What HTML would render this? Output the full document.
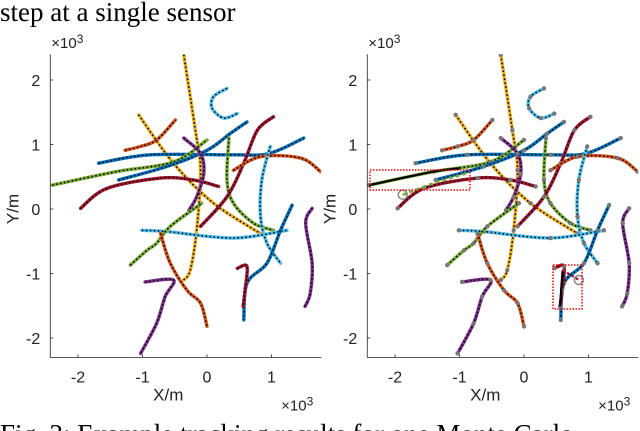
<!DOCTYPE html>
<html><head><meta charset="utf-8"><style>
html,body{margin:0;background:#fff;width:640px;height:431px;overflow:hidden;}
svg{display:block;font-family:"Liberation Sans",sans-serif;overflow:hidden;}
.serif{font-family:"Liberation Serif",serif;}
</style></head><body>
<svg id="c" width="640" height="431" viewBox="0 0 640 431">
<text class="serif" x="0" y="21" font-size="27" fill="#000">step at a single sensor</text>
<text class="serif" x="0" y="443" font-size="27" fill="#000">Fig. 3: Example tracking results for one Monte Carlo</text>
</svg>
<script>
const colors=["#EDB120","#EDB120","#4DBEEE","#D95319","#0072BD","#77AC30","#0072BD","#A2142F","#7E2F8E","#77AC30","#A2142F","#D95319","#4DBEEE","#4DBEEE","#77AC30","#D95319","#0072BD","#A2142F","#7E2F8E","#7E2F8E"];
const tracks=[
[[-0.36,2.39],[-0.18,1.22],[-0.1,0.6],[-0.16,-0.33],[-0.26,-0.95],[-0.36,-1.1]],
[[-1.06,1.46],[-0.52,0.71],[0.1,0.09],[0.83,-0.38]],
[[0.31,1.87],[0.1,1.74],[0.08,1.56],[0.26,1.41],[0.47,1.48]],
[[-1.27,0.91],[-1.03,0.97],[-0.78,1.07],[-0.49,1.38]],
[[-1.68,0.71],[-0.88,0.84],[0.41,0.84],[0.96,0.86],[1.5,1.1]],
[[-2.4,0.37],[-1.4,0.58],[-0.52,0.73],[0,1.07]],
[[-1.37,0.45],[-0.62,0.66],[0,0.91],[0.36,1.17],[0.62,1.35]],
[[-1.96,0.01],[-1.55,0.32],[-0.72,0.48],[-0.21,0.45],[0.18,0.35]],
[[-0.36,1.1],[-0.1,0.86],[-0.05,0.55],[-0.16,0.19],[-0.28,-0.02]],
[[0.34,1.1],[0.31,0.45],[0.41,0.09],[0.72,-0.22],[1.03,-0.33]],
[[-0.1,-0.27],[0.31,0.19],[0.57,0.71],[0.78,1.22],[1.03,1.43]],
[[0.41,0.6],[0.83,0.81],[1.45,0.79],[1.76,0.58]],
[[0.98,0.97],[0.85,0.45],[0.83,-0.12],[0.93,-0.53],[1.14,-0.84]],
[[-1.01,-0.33],[-0.62,-0.35],[0.41,-0.45],[1.24,-0.33]],
[[-1.19,-0.87],[-0.93,-0.64],[-0.78,-0.53],[-0.57,-0.27],[-0.08,0.09]],
[[-0.72,-0.38],[-0.57,-0.84],[-0.31,-1.26],[-0.1,-1.46],[0,-1.82]],
[[1.32,0.06],[1.14,-0.33],[0.93,-0.84],[0.62,-1.15],[0.57,-1.72]],
[[0.47,-0.92],[0.62,-0.89],[0.59,-1.26],[0.56,-1.51]],
[[1.63,0.01],[1.53,-0.22],[1.63,-0.84],[1.6,-1.31],[1.52,-1.51]],
[[-0.96,-1.13],[-0.52,-1.1],[-0.65,-1.36],[-0.78,-1.77],[-1.03,-2.24]]
];
const xTicks=[-2,-1,0,1];
const yTicks=[2,1,0,-1,-2];
const missedGreen=[[-2.4,0.37],[-1.4,0.58],[-1.0,0.63]];
const greenDashed=[[-1.88,0.22],[-1.4,0.4],[-0.9,0.55]];
const missedRed=[[0.56,-1.51],[0.58,-1.2],[0.6,-0.95]];
const redDashed=[[0.6,-0.95],[0.72,-1.02],[0.85,-1.1]];
const NS="http://www.w3.org/2000/svg";
const svg=document.getElementById('c');
const S=64.5;
function mk(t,a,p){const e=document.createElementNS(NS,t);for(const k in a)e.setAttribute(k,a[k]);(p||svg).appendChild(e);return e;}
function smooth(P){
 if(P.length<3)return 'M'+P.map(p=>p.join(',')).join('L');
 let d='M'+P[0][0]+','+P[0][1];
 for(let i=0;i<P.length-1;i++){
  const p0=P[Math.max(0,i-1)],p1=P[i],p2=P[i+1],p3=P[Math.min(P.length-1,i+2)];
  const c1=[p1[0]+(p2[0]-p0[0])/6,p1[1]+(p2[1]-p0[1])/6];
  const c2=[p2[0]-(p3[0]-p1[0])/6,p2[1]-(p3[1]-p1[1])/6];
  d+=`C${c1[0]},${c1[1]} ${c2[0]},${c2[1]} ${p2[0]},${p2[1]}`;
 }
 return d;
}
function panel(x0,right,name){
 const g=mk('g',{});
 
 
 const sx=v=>x0+v*S, sy=v=>209-v*S;
 const left=sx(-2.43), rgt=sx(1.77), top=sy(2.4), bot=sy(-2.3);
 const clip=mk('clipPath',{id:'cl'+name},g);mk('rect',{x:left,y:top,width:rgt-left,height:bot-top},clip);
 const path=a=>smooth(a.map(p=>[sx(p[0]),sy(p[1])]));
 const data=mk('g',{'clip-path':'url(#cl'+name+')'},g);
 tracks.forEach((t,i)=>{
  const l=mk('path',{d:path(t),fill:'none',stroke:colors[i],'stroke-width':3.4,'stroke-linecap':'round','stroke-linejoin':'round'},data);
  
  
  mk('path',{d:path(t),fill:'none',stroke:'#000','stroke-width':1.6,'stroke-dasharray':'1.5 2.5','stroke-linejoin':'round'},data);
  if(right){t.forEach(p=>mk('circle',{cx:sx(p[0]),cy:sy(p[1]),r:2.2,fill:'#777'},data));}
 });
 if(right){
  mk('path',{d:path(missedGreen),fill:'none',stroke:'#000','stroke-width':2.2},data);
  mk('path',{d:path(greenDashed),fill:'none',stroke:'#77AC30','stroke-width':2.5,'stroke-dasharray':'4 3'},data);
  mk('circle',{cx:sx(-1.88),cy:sy(0.22),r:4.5,fill:'none',stroke:'#888','stroke-width':1.5},data);
  mk('path',{d:path(missedRed),fill:'none',stroke:'#000','stroke-width':2.2},data);
  mk('path',{d:path(redDashed),fill:'none',stroke:'#A2142F','stroke-width':2.2,'stroke-dasharray':'3 2'},data);
  mk('circle',{cx:sx(0.85),cy:sy(-1.1),r:4.5,fill:'none',stroke:'#888','stroke-width':1.5},data);
  const b1=mk('rect',{x:370,y:170,width:100,height:20,fill:'none',stroke:'#f00','stroke-width':1.5,'stroke-dasharray':'1.5 1.5'},g);
  
  
  const b2=mk('rect',{x:553,y:265,width:29,height:44,fill:'none',stroke:'#f00','stroke-width':1.5,'stroke-dasharray':'1.5 1.5'},g);
  
  
 }
 mk('path',{d:`M${left},${top}V${bot}H${rgt}`,fill:'none',stroke:'#222','stroke-width':0.8},g);
 xTicks.forEach(v=>{
  mk('line',{x1:sx(v),x2:sx(v),y1:bot,y2:bot-3,stroke:'#222','stroke-width':0.8},g);
  const t=mk('text',{x:sx(v),y:bot+25,'font-size':16,'text-anchor':'middle',fill:'#222'},g);t.textContent=v;
  
  
 });
 yTicks.forEach(v=>{
  mk('line',{x1:left,x2:left+3,y1:sy(v),y2:sy(v),stroke:'#222','stroke-width':0.8},g);
  const t=mk('text',{x:left-10,y:sy(v)+6,'font-size':16,'text-anchor':'end',fill:'#222'},g);t.textContent=v;
  
  
 });
 const xl=mk('text',{x:sx(-0.6),y:bot+43,'font-size':17,'text-anchor':'middle',fill:'#222'},g);xl.textContent='X/m';
 
 
 const yl=mk('text',{x:0,y:0,'font-size':17,'text-anchor':'middle',fill:'#222',transform:`translate(${left-32},${sy(0)}) rotate(-90)`},g);yl.textContent='Y/m';
 
 
 const e1=mk('text',{x:left+1,y:top-6,'font-size':15,fill:'#222'},g);e1.innerHTML='×10<tspan dy="-5" font-size="12">3</tspan>';
 
 
 const e2=mk('text',{x:rgt-40,y:bot+53,'font-size':15,fill:'#222'},g);e2.innerHTML='×10<tspan dy="-5" font-size="12">3</tspan>';
 
 
}
panel(207,false,'left-panel');
panel(524,true,'right-panel');
</script>
</body></html>
